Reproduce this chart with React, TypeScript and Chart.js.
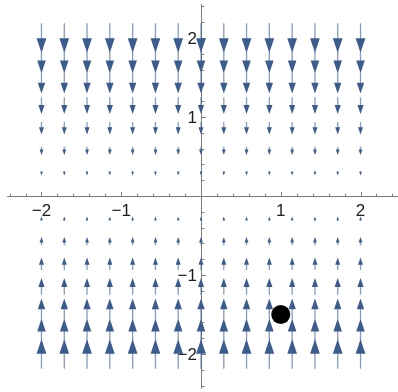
import { useEffect, useRef } from "react";
import { Chart, registerables } from "chart.js";

Chart.register(...registerables);

// Sample grid of the vector field
const gridX = [-2, -1.714, -1.429, -1.143, -0.857, -0.571, -0.286, 0, 0.286, 0.571, 0.857, 1.143, 1.429, 1.714, 2];
const gridY = [2, 1.714, 1.429, 1.143, 0.857, 0.571, 0.286, 0, -0.286, -0.571, -0.857, -1.143, -1.429, -1.714, -2];

// Field components: horizontal part per column, vertical part per row
const flowX = [0, 0, 0, 0, 0, 0, 0, 0, 0, 0, 0, 0, 0, 0, 0];
const flowY = [-2, -1.714, -1.429, -1.143, -0.857, -0.571, -0.286, 0, 0.286, 0.571, 0.857, 1.143, 1.429, 1.714, 2];

// Highlighted point
const markedPoint = [{ x: 1, y: -1.5 }];

// Axis ticks
const majorTickValues = [-2, -1, 1, 2];
const xTickLabels = ["\u22122", "\u22121", "1", "2"];
const yTickLabels = ["\u22122", "\u22121", "1", "2"];

const ARROW_COLOR = "rgb(60,92,142)";
const SHAFT_COLOR = "rgba(70,102,152,0.65)";
const AXIS_COLOR = "#7c7c7c";
const LABEL_FONT = "17px 'Liberation Sans', Arial, sans-serif";

type Arrow = { x: number; y: number; u: number; v: number };

const arrows: Arrow[] = gridY.flatMap((y, r) =>
  gridX.map((x, c) => ({ x, y, u: flowX[c], v: flowY[r] }))
);

const fieldPlugin = {
  id: "fieldPlugin",
  beforeDatasetsDraw(chart: any) {
    const ctx: CanvasRenderingContext2D = chart.ctx;
    const xs = chart.scales.x;
    const ys = chart.scales.y;
    const ox = Math.round(xs.getPixelForValue(0));
    const oy = Math.round(ys.getPixelForValue(0));

    ctx.save();
    // axes
    ctx.strokeStyle = AXIS_COLOR;
    ctx.lineWidth = 1;
    ctx.beginPath();
    ctx.moveTo(xs.getPixelForValue(-2.43), oy + 0.5);
    ctx.lineTo(xs.getPixelForValue(2.47), oy + 0.5);
    ctx.moveTo(ox + 0.5, ys.getPixelForValue(2.43));
    ctx.lineTo(ox + 0.5, ys.getPixelForValue(-2.44));
    ctx.stroke();

    // ticks every 0.2, longer at integers
    ctx.beginPath();
    for (let i = -12; i <= 12; i++) {
      if (i === 0) continue;
      const val = i * 0.2;
      const major = i % 5 === 0;
      const len = major ? 4.5 : 2.8;
      const px = Math.round(xs.getPixelForValue(val)) + 0.5;
      ctx.moveTo(px, oy + 0.5);
      ctx.lineTo(px, oy + 0.5 - len);
      const py = Math.round(ys.getPixelForValue(val)) + 0.5;
      ctx.moveTo(ox + 0.5, py);
      ctx.lineTo(ox + 0.5 + len, py);
    }
    ctx.stroke();

    // tick labels
    ctx.fillStyle = "#1e1e1e";
    ctx.font = LABEL_FONT;
    ctx.textBaseline = "middle";
    ctx.textAlign = "center";
    majorTickValues.forEach((val, i) => {
      ctx.fillText(xTickLabels[i], xs.getPixelForValue(val), oy + 15);
    });
    ctx.textAlign = "right";
    majorTickValues.forEach((val, i) => {
      ctx.fillText(yTickLabels[i], ox - 4, ys.getPixelForValue(val) + 1);
    });

    // arrows centred on their sample points
    const half = 0.093;
    const data: Arrow[] = chart.data.datasets[0].data;
    data.forEach((p) => {
      const x0 = xs.getPixelForValue(p.x - p.u * half);
      const y0 = ys.getPixelForValue(p.y - p.v * half);
      const x1 = xs.getPixelForValue(p.x + p.u * half);
      const y1 = ys.getPixelForValue(p.y + p.v * half);
      const dx = x1 - x0;
      const dy = y1 - y0;
      const len = Math.hypot(dx, dy);
      if (len < 0.5) return;
      const ux = dx / len;
      const uy = dy / len;
      const headLen = 2 + len * 0.42;
      const headW = 1.5 + len * 0.28;
      const bx = x1 - ux * headLen;
      const by = y1 - uy * headLen;

      ctx.strokeStyle = SHAFT_COLOR;
      ctx.lineWidth = 1.3;
      ctx.beginPath();
      ctx.moveTo(x0, y0);
      ctx.lineTo(bx + ux * 1, by + uy * 1);
      ctx.stroke();

      ctx.fillStyle = ARROW_COLOR;
      ctx.beginPath();
      ctx.moveTo(x1, y1);
      ctx.lineTo(bx - uy * headW / 2, by + ux * headW / 2);
      ctx.lineTo(bx + uy * headW / 2, by - ux * headW / 2);
      ctx.closePath();
      ctx.fill();
    });
    ctx.restore();
  },
};

export default function App() {
  const canvasRef = useRef<HTMLCanvasElement | null>(null);

  useEffect(() => {
    document.body.style.margin = "0";
    const canvas = canvasRef.current;
    if (!canvas) return;
    const chart = new Chart(canvas, {
      type: "scatter",
      data: {
        datasets: [
          {
            data: arrows as any,
            pointRadius: 0,
            pointHoverRadius: 0,
          },
          {
            data: markedPoint,
            pointRadius: 9.5,
            pointHoverRadius: 9.5,
            backgroundColor: "#000",
            borderWidth: 0,
          },
        ],
      },
      options: {
        responsive: false,
        animation: false,
        layout: { padding: 0, autoPadding: false },
        plugins: {
          legend: { display: false },
          tooltip: { enabled: false },
        },
        scales: {
          x: { type: "linear", min: -2.52, max: 2.47, display: false },
          y: { type: "linear", min: -2.481, max: 2.481, display: false },
        },
      },
      plugins: [fieldPlugin],
    });
    return () => chart.destroy();
  }, []);

  return (
    <div style={{ position: "absolute", left: 0, top: 0, width: 398, height: 392, background: "#fff" }}>
      <canvas ref={canvasRef} width={398} height={392} />
    </div>
  );
}
